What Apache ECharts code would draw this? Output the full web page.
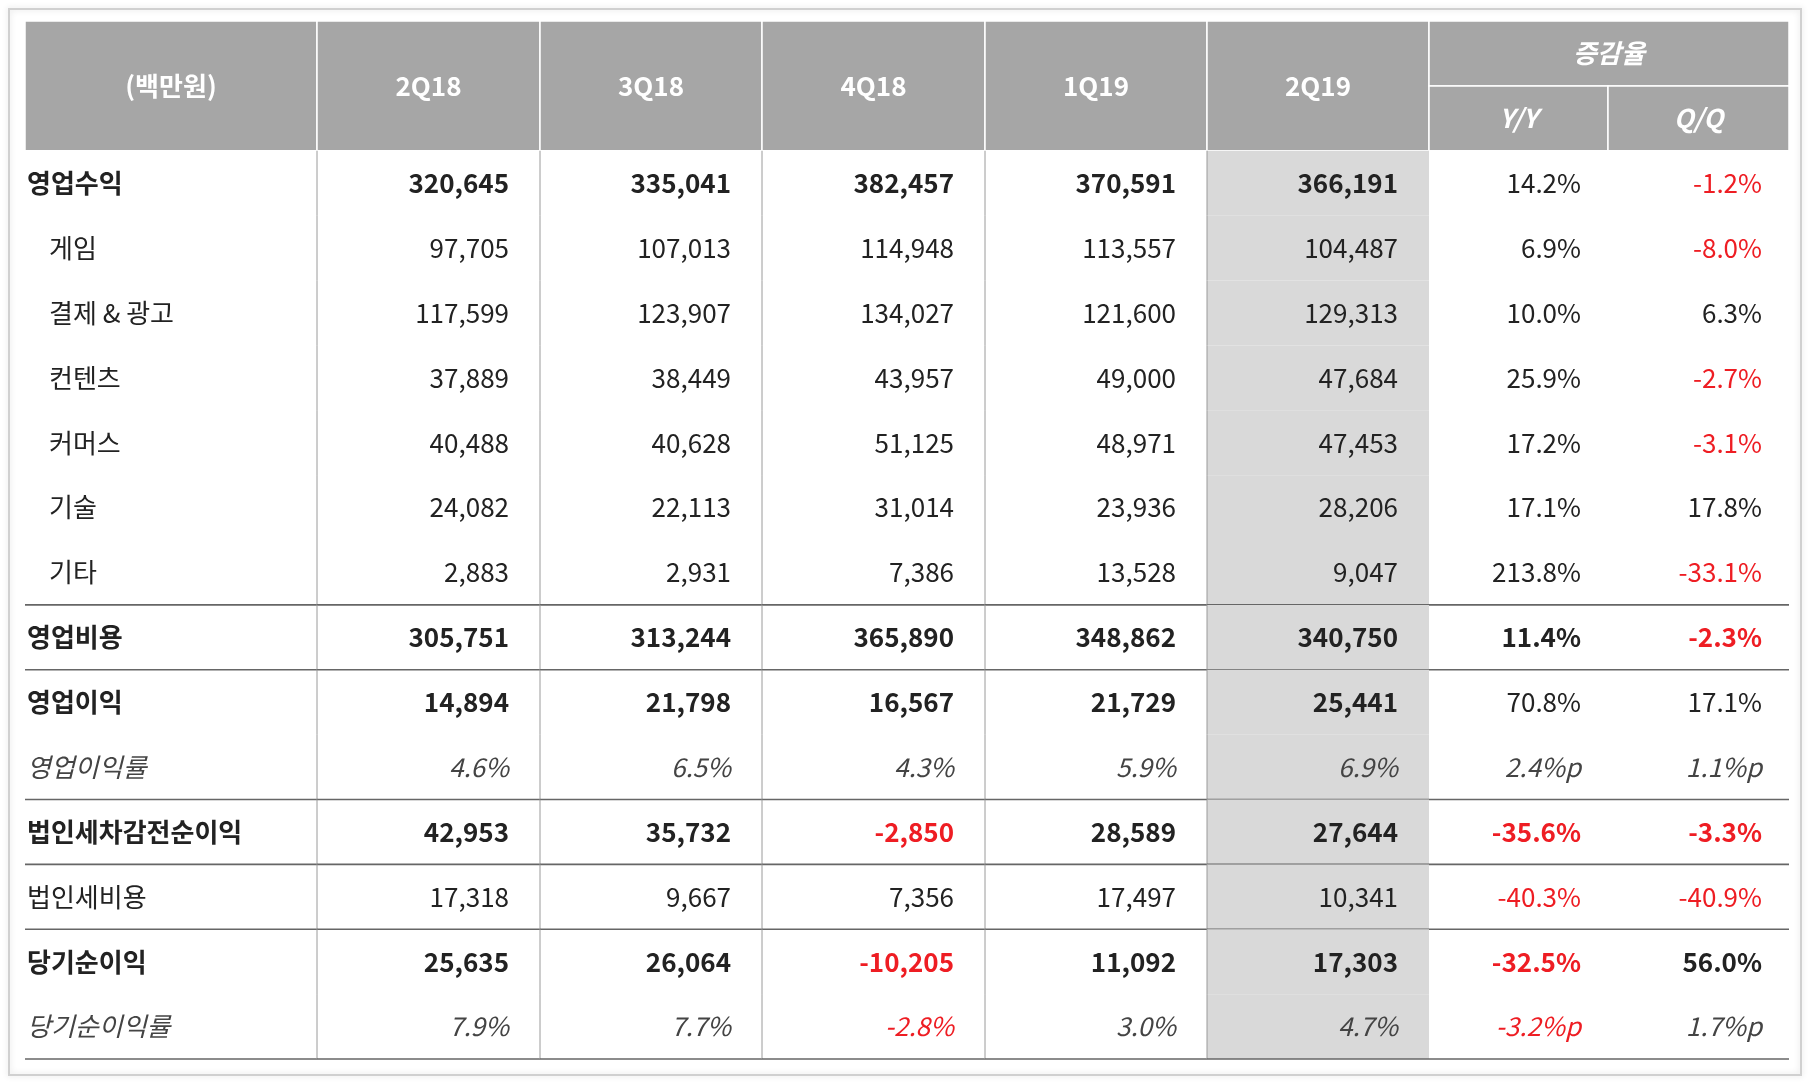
<!DOCTYPE html>
<html><head><meta charset="utf-8">
<script src="https://cdn.jsdelivr.net/npm/echarts@6/dist/echarts.min.js"></script>
<style>html,body{margin:0;padding:0;background:#fff}#c{width:1810px;height:1084px}</style>
</head><body><div id="c"></div>
<script>
const headerLabels = ['(백만원)', '2Q18', '3Q18', '4Q18', '1Q19', '2Q19'];
const changeHeader = '증감율';
const changeSubHeaders = ['Y/Y', 'Q/Q'];
const rowLabels = ['영업수익','게임','결제 & 광고','컨텐츠','커머스','기술','기타','영업비용','영업이익','영업이익률','법인세차감전순이익','법인세비용','당기순이익','당기순이익률'];
const q2Q18 = ['320,645','97,705','117,599','37,889','40,488','24,082','2,883','305,751','14,894','4.6%','42,953','17,318','25,635','7.9%'];
const q3Q18 = ['335,041','107,013','123,907','38,449','40,628','22,113','2,931','313,244','21,798','6.5%','35,732','9,667','26,064','7.7%'];
const q4Q18 = ['382,457','114,948','134,027','43,957','51,125','31,014','7,386','365,890','16,567','4.3%','-2,850','7,356','-10,205','-2.8%'];
const q1Q19 = ['370,591','113,557','121,600','49,000','48,971','23,936','13,528','348,862','21,729','5.9%','28,589','17,497','11,092','3.0%'];
const q2Q19 = ['366,191','104,487','129,313','47,684','47,453','28,206','9,047','340,750','25,441','6.9%','27,644','10,341','17,303','4.7%'];
const yoy = ['14.2%','6.9%','10.0%','25.9%','17.2%','17.1%','213.8%','11.4%','70.8%','2.4%p','-35.6%','-40.3%','-32.5%','-3.2%p'];
const qoq = ['-1.2%','-8.0%','6.3%','-2.7%','-3.1%','17.8%','-33.1%','-2.3%','17.1%','1.1%p','-3.3%','-40.9%','56.0%','1.7%p'];
const boldRows = [0,7,8,10,12];
const italicRows = [9,13];
const indentRows = [1,2,3,4,5,6];
const boldChangeRows = [7,10,12];
const separatorAfterRows = [6,7,9,10,11,13];

// layout
const colEdges = [0,292,515,737,960,1182,1404,1583,1764];
const FONT = '"Noto Sans CJK KR", "Noto Sans", sans-serif';
const RED = '#ee1d23', TXT = '#222';

const valueCols = [q2Q18,q3Q18,q4Q18,q1Q19,q2Q19];
const cells = [];
headerLabels.forEach((t,i)=>cells.push({kind:'h', value:[i,i+1,0,2], text:t, italic:false}));
cells.push({kind:'h', value:[6,8,0,1], text:changeHeader, italic:true});
changeSubHeaders.forEach((t,i)=>cells.push({kind:'h', value:[6+i,7+i,1,2], text:t, italic:true}));
rowLabels.forEach((lab,r)=>{
  const bold = boldRows.includes(r), ital = italicRows.includes(r);
  cells.push({kind:'b', value:[0,1,r+2,r+3], text:lab, bold, italic:ital, indent:indentRows.includes(r), row:r});
  valueCols.forEach((arr,c)=>cells.push({kind:'b', value:[c+1,c+2,r+2,r+3], text:arr[r], bold, italic:ital, row:r}));
  const cb = boldChangeRows.includes(r);
  cells.push({kind:'b', value:[6,7,r+2,r+3], text:yoy[r], bold:cb, italic:ital, row:r});
  cells.push({kind:'b', value:[7,8,r+2,r+3], text:qoq[r], bold:cb, italic:ital, row:r});
});

function renderItem(params, api){
  const c0 = api.value(0), c1 = api.value(1), r0 = api.value(2), r1 = api.value(3);
  const d = cells[params.dataIndex];
  const p0 = api.coord([colEdges[c0], r0]);
  const p1 = api.coord([colEdges[c1], r1]);
  const x = p0[0], y = p0[1], w = p1[0]-p0[0], h = p1[1]-p0[1];
  const children = [];
  if (d.kind === 'h') {
    children.push({type:'rect', shape:{x,y,width:w,height:h}, style:{fill:'#a6a6a6', stroke:'#fff', lineWidth:1.5}});
    children.push({type:'text', style:{text:d.text, x:x+w/2, y:y+h/2, align:'center', verticalAlign:'middle',
      fill:'#fff', font:(d.italic?'italic ':'')+'bold 26px '+FONT}});
  } else {
    if (c0 === 5) children.push({type:'rect', shape:{x,y,width:w,height:h}, style:{fill:'#d9d9d9'}});
    if (c0 >= 1 && c0 <= 5) children.push({type:'line', shape:{x1:x,y1:y,x2:x,y2:y+h}, style:{stroke:'#9a9a9a', lineWidth:1}});
    if (separatorAfterRows.includes(d.row)) children.push({type:'line', shape:{x1:x,y1:y+h,x2:x+w,y2:y+h}, style:{stroke:'#666', lineWidth:1.6}});
    const red = d.text.startsWith('-') && c0 > 0;
    let tx, al;
    if (c0 === 0) { tx = x + (d.indent ? 24 : 2); al = 'left'; }
    else if (c0 >= 6) { tx = x + w - 27; al = 'right'; }
    else { tx = x + w - 31; al = 'right'; }
    children.push({type:'text', style:{text:d.text, x:tx, y:y+h/2, align:al, verticalAlign:'middle',
      fill: red ? RED : (d.italic ? '#444' : TXT), font:(d.italic?'italic ':'')+(d.bold?'bold ':'')+'26px '+FONT}});
  }
  return {type:'group', children};
}

const chart = echarts.init(document.getElementById('c'));
chart.setOption({
  animation:false,
  graphic:[{type:'rect', shape:{x:9,y:9,width:1792,height:1066}, style:{fill:'none', stroke:'#d0d0d0', lineWidth:2, shadowBlur:6, shadowColor:'rgba(0,0,0,0.15)'}, z:-1}],
  grid:{left:25, top:21, width:1764, height:1038},
  xAxis:{type:'value', min:0, max:1764, show:false},
  yAxis:{type:'value', min:0, max:16, inverse:true, show:false},
  series:[{type:'custom', renderItem, data:cells.map(d=>d.value), encode:{x:[0,1], y:[2,3]}, clip:false}]
});
</script></body></html>
